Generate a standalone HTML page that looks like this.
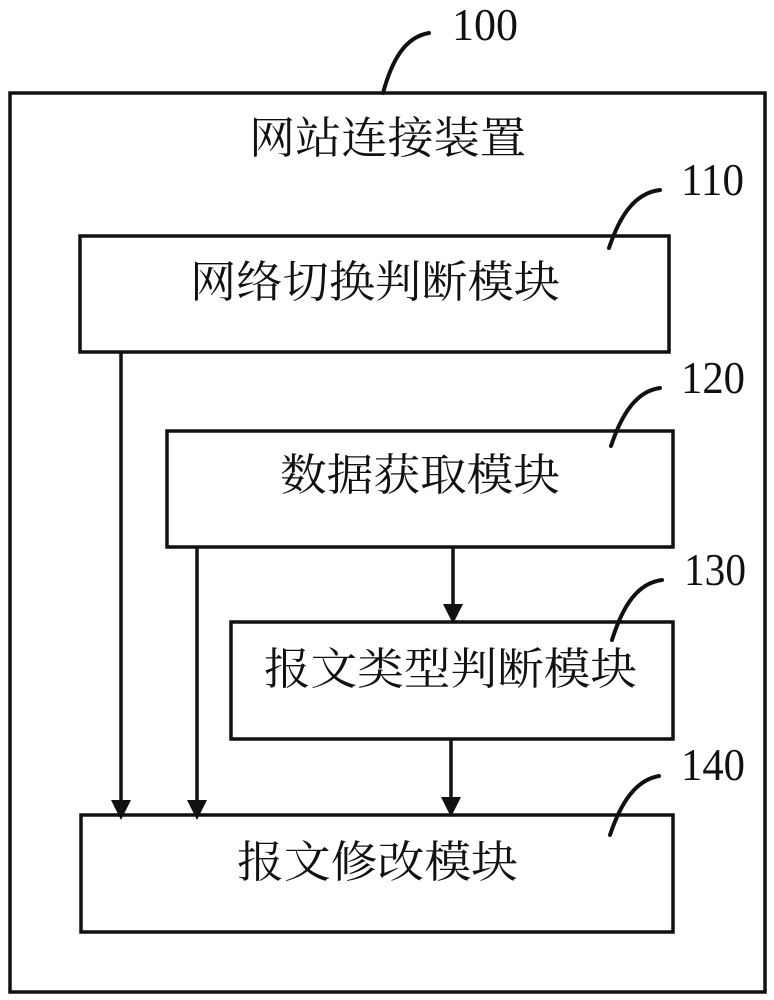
<!DOCTYPE html>
<html><head><meta charset="utf-8"><style>
html,body{margin:0;padding:0;background:#fff;}
svg{display:block;}
.cn{font-family:"Liberation Serif","Noto Serif CJK SC",serif;font-size:44px;fill:#111;}
.num{font-family:"Liberation Serif",serif;font-size:46px;fill:#111;}
</style></head><body>
<svg width="774" height="1000" viewBox="0 0 774 1000" xmlns="http://www.w3.org/2000/svg">
<g fill="none" stroke="#111" stroke-width="3.5">
<rect x="10" y="93" width="755" height="899"/>
<rect x="80" y="236" width="589" height="116"/>
<rect x="167" y="431" width="506" height="116"/>
<rect x="231" y="622" width="442" height="117"/>
<rect x="81" y="815" width="592" height="117"/>
<line x1="121" y1="352" x2="121" y2="800"/>
<line x1="197" y1="547" x2="197" y2="800"/>
<line x1="453" y1="547" x2="453" y2="607"/>
<line x1="451" y1="739" x2="451" y2="800"/>
<g stroke-width="4" stroke-linecap="round">
<path d="M383 93 C392 60 405 37 429 33"/>
<path d="M609 248 C620 215 635 193 660 190"/>
<path d="M611 446 C622 413 637 391 660 388"/>
<path d="M612 640 C623 605 638 583 662 580"/>
<path d="M610 835 C621 802 636 780 659 776"/>
</g>
</g>
<g fill="#111">
<polygon points="111,800 131,800 121,820"/>
<polygon points="187,800 207,800 197,820"/>
<polygon points="443,604 463,604 453,624"/>
<polygon points="441,797 461,797 451,817"/>
</g>
<text class="cn" x="249" y="153" textLength="277" lengthAdjust="spacingAndGlyphs">网站连接装置</text>
<text class="cn" x="190" y="297" textLength="370" lengthAdjust="spacingAndGlyphs">网络切换判断模块</text>
<text class="cn" x="280" y="490" textLength="280" lengthAdjust="spacingAndGlyphs">数据获取模块</text>
<text class="cn" x="264" y="684" textLength="373" lengthAdjust="spacingAndGlyphs">报文类型判断模块</text>
<text class="cn" x="237" y="877" textLength="281" lengthAdjust="spacingAndGlyphs">报文修改模块</text>
<text class="num" x="452" y="40" textLength="66" lengthAdjust="spacingAndGlyphs">100</text>
<text class="num" x="681" y="195" textLength="63" lengthAdjust="spacingAndGlyphs">110</text>
<text class="num" x="681" y="393" textLength="64" lengthAdjust="spacingAndGlyphs">120</text>
<text class="num" x="684" y="585" textLength="62" lengthAdjust="spacingAndGlyphs">130</text>
<text class="num" x="681" y="780" textLength="64" lengthAdjust="spacingAndGlyphs">140</text>
</svg>
</body></html>
